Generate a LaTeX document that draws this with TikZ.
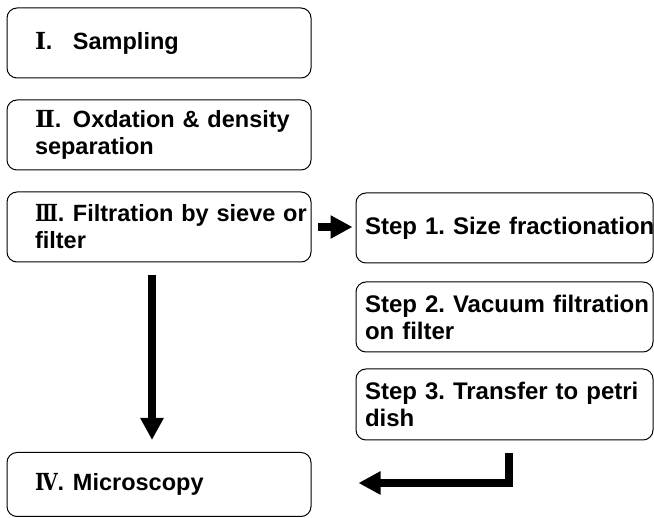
\documentclass[tikz,border=0pt]{standalone}
\usepackage{fontspec}
\usepackage{graphicx}
\setmainfont{Liberation Sans}
\newfontfamily\numfont{DejaVu Serif}
\usetikzlibrary{arrows.meta}

% Roman numeral of a stage and its dot, in a box of fixed width
\newcommand{\rn}[2][1]{\makebox[38pt][l]{\scalebox{#1}[1]{\numfont #2}.}}

\tikzset{
  stagebox/.style={draw, line width=1pt, rounded corners=10pt,
    align=left, inner ysep=0pt,
    font=\fontsize{24}{27}\selectfont\bfseries\frenchspacing},
  mainbox/.style={stagebox, text width=248pt, inner xsep=28pt, minimum height=70pt,
    font=\fontsize{23.5}{27}\selectfont\bfseries\frenchspacing},
  stepbox/.style={stagebox, text width=279pt, inner xsep=9pt, minimum height=70pt},
  fat/.style={line width=8pt, line join=miter, -{Triangle[length=22pt,width=22pt]}}
}

\begin{document}
\begin{tikzpicture}[x=1pt,y=-1pt]
\useasboundingbox (0,0) rectangle (654,518);
% Main stages on the left
\node[mainbox] (samp) at (159,43)  {\rn{Ⅰ}Sampling};
\node[mainbox] (oxid) at (159,135) {\mbox{\rn{Ⅱ}Oxdation \& density}\\separation};
\node[mainbox] (filt) at (159,227) {\mbox{\rn[0.8]{Ⅲ}Filtration by sieve or}\\filter};
\node[mainbox, minimum height=64pt] (micro) at (159,484.5) {\rn[0.85]{Ⅳ}Microscopy};
% Steps of the filtration
\node[stepbox] (step1) at (504.5,228) {\mbox{Step 1. Size fractionation}};
\node[stepbox] (step2) at (504.5,317) {\mbox{Step 2. Vacuum filtration}\\on filter};
\node[stepbox, minimum height=71pt] (step3) at (504.5,404.5) {\mbox{Step 3. Transfer to petri}\\dish};
% Corner of the way back
\coordinate (bend) at (509,483);
% Arrows
\draw[fat] ([xshift=6pt]filt.east) -- ([xshift=-3pt]filt.east -| step1.west);
\draw[fat] ([xshift=-7pt,yshift=-13pt]filt.south) -- ([xshift=-7pt,yshift=12pt]micro.north);
\draw[fat] ([yshift=-13pt]step3.south -| bend) -- (bend) -- ([xshift=47pt]micro.east |- bend);
\end{tikzpicture}
\end{document}
